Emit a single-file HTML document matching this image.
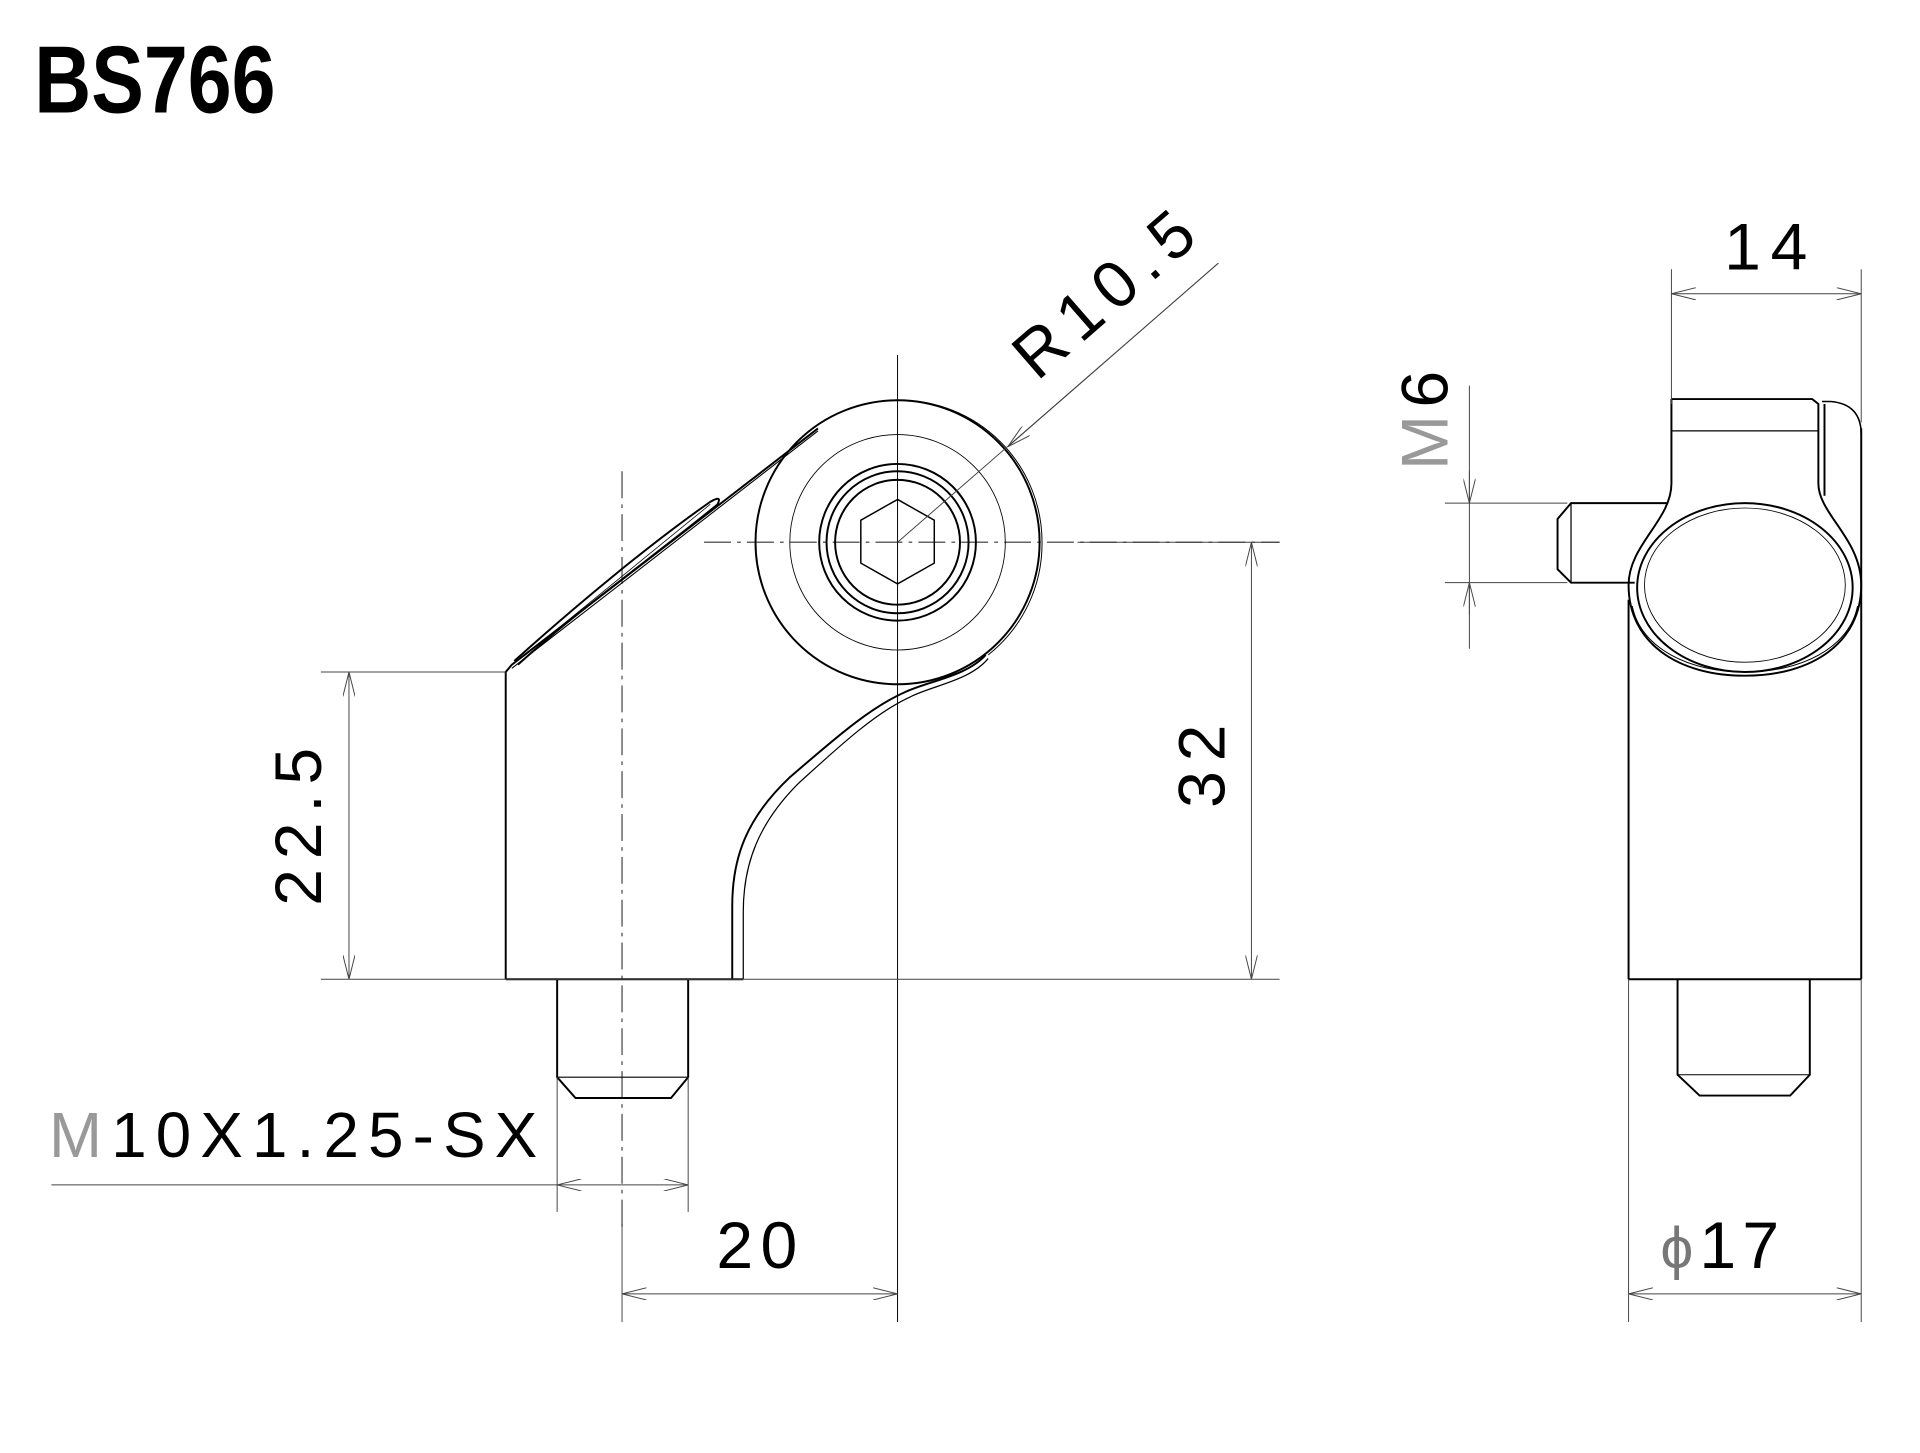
<!DOCTYPE html>
<html><head><meta charset="utf-8"><style>
html,body{margin:0;padding:0;background:#fff;}
svg{display:block;}
text{font-family:"Liberation Sans",sans-serif;fill:#000;}
</style></head><body>
<svg width="1920" height="1453" viewBox="0 0 1568 1187" preserveAspectRatio="none" xmlns="http://www.w3.org/2000/svg">
<defs>
<marker id="a" viewBox="0 0 20 10" refX="20" refY="5" markerWidth="20" markerHeight="10" markerUnits="userSpaceOnUse" orient="auto-start-reverse"><path d="M0,0 L20,5 L0,10" fill="none" stroke="#444" stroke-width="0.8"/></marker>
</defs>
<text x="28" y="92" font-size="78" font-weight="bold" textLength="197" lengthAdjust="spacingAndGlyphs">BS766</text>

<g stroke="#666" stroke-width="1.2" fill="none">
<line x1="508" y1="385" x2="508" y2="1005" stroke-dasharray="22,5,3,5"/>
<line x1="575" y1="443" x2="1045" y2="443" stroke-dasharray="22,5,3,5"/>
</g>
<g stroke="#000" stroke-width="0.8" fill="none">
<line x1="733" y1="290" x2="733" y2="1080"/>
</g>

<g stroke="#000" stroke-width="1.6" fill="none">
<path d="M413,800 L413,549 L418,543 L668,350"/>
<path d="M418,546 L668,352" stroke-width="0.9"/>
<path d="M420,540 C470,495 530,445 580,410 Q590,404 586,412 C540,450 470,500 423,543"/>
<path d="M428,536 L580,412" stroke-width="0.6"/>
<circle cx="733" cy="443" r="116"/>
<path d="M733,327 A116,116 0 0 1 849,443 A116,116 0 0 1 805,535" stroke-width="0.8" transform="translate(2,0)"/>
<circle cx="733" cy="443" r="88" stroke-width="0.7"/>
<circle cx="733" cy="443" r="64"/>
<circle cx="733" cy="443" r="58"/>
<circle cx="733" cy="443" r="51"/>
<polygon points="733,408 763,425 763,460 733,477 703,460 703,425" stroke-width="1.2"/>
<path d="M805,535 C790,552 760,556 740,565 C710,578 680,605 645,635 C610,668 598,700 598,740 L598,800"/>
<path d="M807,538 C792,556 762,560 744,569 C715,582 685,610 652,640 C620,672 607,705 607,745 L607,800" stroke-width="1"/>
<path d="M413,800 L607,800"/>
<path d="M455,800 L455,880 L470,897 L548,897 L562,880 L562,800"/>
<line x1="455" y1="880" x2="562" y2="880" stroke-width="0.9"/>
</g>

<g stroke="#444" stroke-width="0.8" fill="none">
<line x1="262" y1="549" x2="413" y2="549"/>
<line x1="262" y1="800" x2="1045" y2="800"/>
<line x1="880" y1="443" x2="1045" y2="443"/>
<line x1="285" y1="549" x2="285" y2="800" marker-start="url(#a)" marker-end="url(#a)"/>
<line x1="1022" y1="443" x2="1022" y2="800" marker-start="url(#a)" marker-end="url(#a)"/>
<line x1="995" y1="215" x2="733" y2="443"/>
<line x1="995" y1="215" x2="823" y2="365" marker-end="url(#a)"/>
<line x1="42" y1="968" x2="455" y2="968"/>
<line x1="455" y1="880" x2="455" y2="990"/>
<line x1="562" y1="880" x2="562" y2="990"/>
<line x1="455" y1="968" x2="562" y2="968" marker-start="url(#a)" marker-end="url(#a)"/>
<line x1="508" y1="1000" x2="508" y2="1080"/>
<line x1="508" y1="1057" x2="733" y2="1057" marker-start="url(#a)" marker-end="url(#a)"/>
</g>
<text font-size="54" letter-spacing="8" transform="translate(262,740) rotate(-90)">22.5</text>
<text font-size="54" letter-spacing="8" transform="translate(1000,660) rotate(-90)">32</text>
<text font-size="54" letter-spacing="8" transform="translate(847,312) rotate(-41)">R10.5</text>
<text x="40" y="945" font-size="52" letter-spacing="7.5"><tspan fill="#999" style="font-family:'DejaVu Sans ExtraLight','Liberation Sans',sans-serif">M</tspan>10X1.25-SX</text>
<text x="585" y="1036" font-size="54" letter-spacing="6">20</text>

<g stroke="#000" stroke-width="1.6" fill="none">
<path d="M1330,800 L1330,490"/>
<path d="M1520,350 L1520,800"/>
<path d="M1330,800 L1520,800"/>
<path d="M1365,326 L1480,326 L1485,330 L1485,395 C1485,420 1520,440 1520,478 C1520,525 1480,552 1425,552 C1370,552 1330,525 1330,478 C1330,445 1365,425 1365,395 L1365,326"/>
<path d="M1488,328 L1495,328 Q1520,330 1520,355" stroke-width="1.3"/>
<path d="M1490,330 L1490,405"/>
<line x1="1365" y1="352" x2="1485" y2="352" stroke-width="1"/>
<ellipse cx="1425" cy="480" rx="88" ry="69"/>
<ellipse cx="1425" cy="478" rx="82" ry="63" stroke-width="0.7"/>
<path d="M1333,495 C1340,530 1380,549 1425,549 C1470,549 1510,530 1517,495" stroke-width="0.8"/>
<path d="M1362,411 L1283,411 L1272,424 L1272,465 L1283,476 L1335,476"/>
<line x1="1283" y1="411" x2="1283" y2="476" stroke-width="1"/>
<path d="M1370,800 L1370,878 L1388,895 L1462,895 L1478,878 L1478,800"/>
<line x1="1370" y1="878" x2="1478" y2="878" stroke-width="0.9"/>
</g>
<g stroke="#444" stroke-width="0.8" fill="none">
<line x1="1365" y1="220" x2="1365" y2="330"/>
<line x1="1520" y1="220" x2="1520" y2="345"/>
<line x1="1365" y1="240" x2="1520" y2="240" marker-start="url(#a)" marker-end="url(#a)"/>
<line x1="1180" y1="411" x2="1280" y2="411"/>
<line x1="1180" y1="476" x2="1280" y2="476"/>
<line x1="1200" y1="315" x2="1200" y2="530"/>
<line x1="1200" y1="385" x2="1200" y2="411" marker-end="url(#a)"/>
<line x1="1200" y1="502" x2="1200" y2="476" marker-end="url(#a)"/>
<line x1="1330" y1="800" x2="1330" y2="1080"/>
<line x1="1520" y1="800" x2="1520" y2="1080"/>
<line x1="1330" y1="1057" x2="1520" y2="1057" marker-start="url(#a)" marker-end="url(#a)"/>
</g>
<text x="1408" y="220" font-size="54" letter-spacing="8">14</text>
<text font-size="54" transform="translate(1182,384) rotate(-90)" letter-spacing="6"><tspan fill="#999" style="font-family:'DejaVu Sans ExtraLight','Liberation Sans',sans-serif">M</tspan>6</text>
<text x="1356" y="1036" font-size="54" letter-spacing="5"><tspan fill="#777" font-size="48">ϕ</tspan>17</text>
</svg>
</body></html>
